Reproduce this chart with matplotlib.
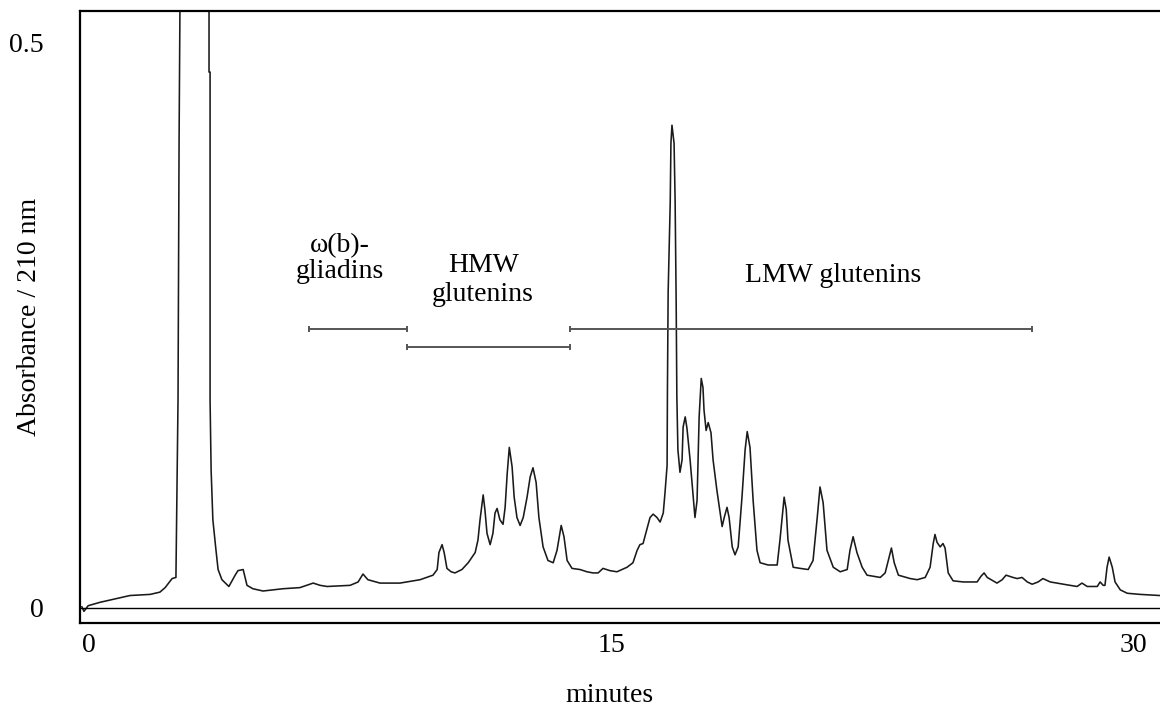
import numpy as np
import matplotlib.pyplot as plt

plt.rcParams['font.family'] = ['Liberation Serif', 'DejaVu Serif']

# retention time (minutes) and absorbance
minutes = [-0.19, -0.13, -0.01, 0.33, 0.76, 1.19, 1.77, 2.05, 2.20, 2.40, 2.51,
           2.57, 2.60, 2.64, 3.03, 3.46, 3.46, 3.49, 3.49, 3.52, 3.57, 3.66, 3.72,
           3.83, 4.03, 4.21, 4.29, 4.44, 4.55, 4.72, 5.01, 5.58, 6.07, 6.45, 6.65,
           6.85, 7.51, 7.74, 7.88, 8.02, 8.37, 8.94, 9.52, 9.89, 10.01, 10.06,
           10.15, 10.21, 10.29, 10.41, 10.52, 10.72, 10.90, 11.10, 11.18, 11.24,
           11.33, 11.38, 11.44, 11.53, 11.61, 11.67, 11.73, 11.81, 11.90, 11.96,
           12.02, 12.08, 12.16, 12.22, 12.30, 12.39, 12.48, 12.59, 12.68, 12.76,
           12.85, 12.93, 13.05, 13.19, 13.34, 13.45, 13.57, 13.65, 13.74, 13.88,
           14.11, 14.31, 14.48, 14.63, 14.77, 14.97, 15.17, 15.46, 15.63, 15.75,
           15.83, 15.92, 16.12, 16.21, 16.32, 16.41, 16.50, 16.55, 16.61, 16.62,
           16.64, 16.70, 16.72, 16.75, 16.81, 16.84, 16.87, 16.89, 16.92, 16.98,
           17.04, 17.07, 17.13, 17.18, 17.27, 17.36, 17.41, 17.47, 17.53, 17.59,
           17.64, 17.67, 17.73, 17.79, 17.87, 17.93, 18.04, 18.19, 18.25, 18.33,
           18.39, 18.48, 18.56, 18.65, 18.76, 18.85, 18.91, 18.99, 19.08, 19.19,
           19.28, 19.51, 19.77, 19.85, 19.94, 19.97, 20.03, 20.08, 20.23, 20.43,
           20.66, 20.80, 20.92, 21.00, 21.09, 21.20, 21.38, 21.58, 21.78, 21.86,
           21.95, 22.06, 22.21, 22.35, 22.73, 22.87, 22.96, 23.05, 23.13, 23.25,
           23.59, 23.79, 24.02, 24.16, 24.25, 24.30, 24.36, 24.45, 24.53, 24.59,
           24.68, 24.82, 25.11, 25.51, 25.62, 25.71, 25.80, 26.08, 26.23, 26.34,
           26.54, 26.66, 26.80, 26.95, 27.09, 27.26, 27.40, 27.61, 27.98, 28.18,
           28.38, 28.52, 28.67, 28.96, 29.04, 29.13, 29.18, 29.24, 29.30, 29.39,
           29.47, 29.62, 29.82, 30.19, 30.76]
absorbance = [0.001, -0.003, 0.002, 0.005, 0.008, 0.011, 0.012, 0.014, 0.018, 0.026, 0.027,
              0.184, 0.412, 0.600, 0.950, 0.600, 0.474, 0.474, 0.184, 0.122, 0.078, 0.051, 0.034,
              0.025, 0.019, 0.029, 0.033, 0.034, 0.020, 0.017, 0.015, 0.017, 0.018, 0.022, 0.020,
              0.019, 0.020, 0.023, 0.030, 0.025, 0.022, 0.022, 0.025, 0.029, 0.034, 0.049,
              0.056, 0.049, 0.035, 0.032, 0.031, 0.034, 0.040, 0.049, 0.060, 0.078,
              0.100, 0.087, 0.066, 0.056, 0.066, 0.084, 0.088, 0.078, 0.074, 0.089,
              0.119, 0.142, 0.125, 0.098, 0.080, 0.073, 0.080, 0.098, 0.116, 0.124,
              0.111, 0.080, 0.054, 0.042, 0.040, 0.051, 0.073, 0.063, 0.042, 0.035,
              0.034, 0.032, 0.031, 0.031, 0.035, 0.033, 0.032, 0.036, 0.040, 0.051,
              0.056, 0.057, 0.080, 0.083, 0.080, 0.076, 0.084, 0.102, 0.126, 0.193,
              0.279, 0.359, 0.411, 0.427, 0.411, 0.361, 0.272, 0.187, 0.140, 0.120,
              0.131, 0.160, 0.169, 0.159, 0.131, 0.098, 0.080, 0.095, 0.169, 0.203,
              0.195, 0.175, 0.157, 0.164, 0.155, 0.131, 0.104, 0.072, 0.080, 0.089,
              0.080, 0.054, 0.047, 0.054, 0.098, 0.140, 0.156, 0.142, 0.095, 0.051,
              0.040, 0.038, 0.038, 0.060, 0.089, 0.098, 0.087, 0.060, 0.036, 0.035,
              0.034, 0.042, 0.080, 0.107, 0.093, 0.051, 0.036, 0.032, 0.034, 0.051,
              0.063, 0.049, 0.036, 0.029, 0.027, 0.031, 0.042, 0.053, 0.040, 0.029,
              0.026, 0.025, 0.027, 0.036, 0.057, 0.065, 0.058, 0.054, 0.057, 0.053,
              0.031, 0.024, 0.023, 0.023, 0.028, 0.031, 0.027, 0.022, 0.025, 0.029,
              0.027, 0.026, 0.027, 0.023, 0.021, 0.023, 0.026, 0.023, 0.021, 0.020,
              0.019, 0.022, 0.019, 0.019, 0.023, 0.020, 0.020, 0.036, 0.045, 0.036,
              0.023, 0.016, 0.013, 0.012, 0.011]

# fraction labels and the time ranges they cover
fractions = ['ω(b)-\ngliadins', 'HMW\nglutenins', 'LMW glutenins']
frac_start = [6.33, 9.15, 13.82]
frac_end = [9.15, 13.82, 27.09]
frac_level = [0.247, 0.231, 0.247]
label_x = [7.22, 11.33, 21.37]
label_y = [0.309, 0.290, 0.294]

xticks = [0, 15, 30]
yticks = [0, 0.5]

fig = plt.figure(figsize=(11.6, 7.08), dpi=100)
ax = fig.add_axes([80 / 1160, 1 - 623 / 708, 1080 / 1160, 612 / 708])

ax.plot(minutes, absorbance, color='#1a1a1a', lw=1.15)
ax.axhline(0, color='black', lw=1.0)

for s, e, lev in zip(frac_start, frac_end, frac_level):
    ax.plot([s, e], [lev, lev], color='#555555', lw=1.4, marker='|', markersize=4,
            markeredgewidth=1.4)
for txt, x, y, ls in zip(fractions, label_x, label_y, [1.0, 1.2, 1.0]):
    ax.text(x, y, txt, ha='center', va='center', fontsize=20, linespacing=ls,
            bbox=dict(facecolor='white', edgecolor='none', pad=2))

ax.set_xlim(-0.244, 30.76)
ax.set_ylim(-0.0133, 0.528)
ax.set_xticks(xticks)
ax.set_xticklabels([str(t) for t in xticks])
ax.set_yticks(yticks)
ax.set_yticklabels(['0', '0.5'])
ax.tick_params(axis='x', length=0, pad=7, labelsize=20)
ax.tick_params(axis='y', length=0, pad=26, labelsize=20)

for side in ['top', 'bottom', 'left']:
    ax.spines[side].set_linewidth(1.6)
ax.spines['right'].set_visible(False)

ax.set_xlabel('minutes', fontsize=20, va='center')
ax.xaxis.set_label_coords(0.49, -0.118)
ax.set_ylabel('Absorbance / 210 nm', fontsize=20, va='center')
ax.yaxis.set_label_coords(-0.047, 0.5)

fig.savefig('out.png', dpi=100)
